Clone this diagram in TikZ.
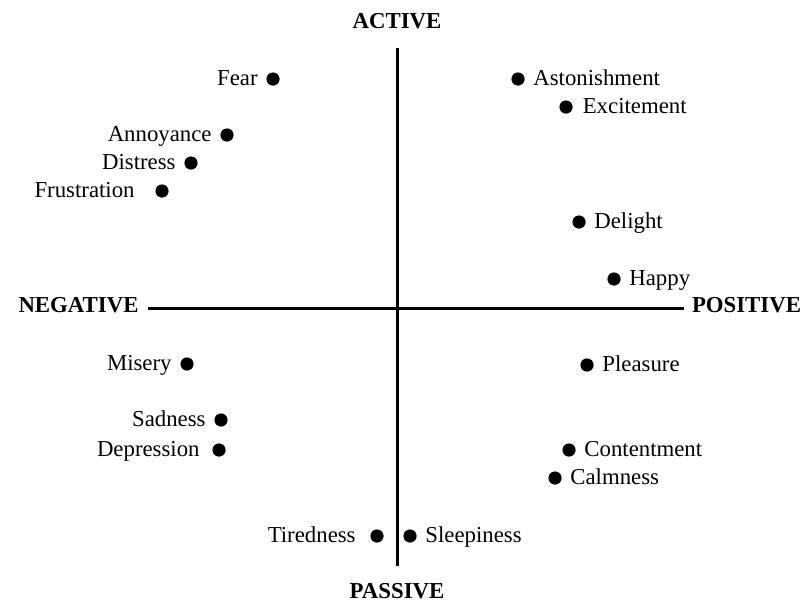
\documentclass[tikz,border=0pt]{standalone}
\usepackage{fontspec}
\setmainfont{Liberation Serif}
\usetikzlibrary{positioning}

\begin{document}
\begin{tikzpicture}[x=0.5pt,y=-0.5pt,
  every node/.style={font=\fontsize{11.4}{13}\selectfont},
  emo/.style={circle,fill=black,inner sep=0pt,minimum size=6.6pt},
  lbl/.style={inner sep=0pt,text height=0.66em,text depth=0pt},
  pole/.style={font=\fontsize{11.4}{13}\selectfont\bfseries,inner sep=0pt,text height=0.66em,text depth=0pt},
  axis/.style={line width=1.5pt}
]
\useasboundingbox (0,0) rectangle (804,606);

% poles
\node[pole] (active) at (397,22) {ACTIVE};
\node[pole] (passive) at (397,592) {PASSIVE};
\node[pole] (negative) at (78.5,306) {NEGATIVE};
\node[pole] (positive) at (746.5,306) {POSITIVE};

% axes
\coordinate (aTop) at (397,48);
\coordinate (aBot) at (397,566);
\coordinate (aLeft) at (148,308);
\coordinate (aRight) at (684,308);
\draw[axis] (aTop) -- (aBot);
\draw[axis] (aLeft) -- (aRight);

% negative side
\node[emo] (nFear) at (273,79) {};
\node[lbl,left=4pt of nFear] (tFear) {Fear};
\node[emo] (nAnnoy) at (227,135) {};
\node[lbl,left=4pt of nAnnoy] (tAnnoy) {Annoyance};
\node[emo] (nDistress) at (191,163) {};
\node[lbl,left=4pt of nDistress] (tDistress) {Distress};
\node[emo] (nFrust) at (162,191) {};
\node[lbl,left=10pt of nFrust] (tFrust) {Frustration};
\node[emo] (nMisery) at (187,364) {};
\node[lbl,left=4pt of nMisery] (tMisery) {Misery};
\node[emo] (nSad) at (221,420) {};
\node[lbl,left=4pt of nSad] (tSad) {Sadness};
\node[emo] (nDepr) at (219,450) {};
\node[lbl,left=6pt of nDepr] (tDepr) {Depression};
\node[emo] (nTired) at (377,536) {};
\node[lbl,left=7pt of nTired] (tTired) {Tiredness};

% positive side
\node[emo] (nAston) at (518,79) {};
\node[lbl,right=4pt of nAston] (tAston) {Astonishment};
\node[emo] (nExcite) at (566,107) {};
\node[lbl,right=4.7pt of nExcite] (tExcite) {Excitement};
\node[emo] (nDelight) at (579,222) {};
\node[lbl,right=4pt of nDelight] (tDelight) {Delight};
\node[emo] (nHappy) at (614,279) {};
\node[lbl,right=4pt of nHappy] (tHappy) {Happy};
\node[emo] (nPleas) at (587,365) {};
\node[lbl,right=4pt of nPleas] (tPleas) {Pleasure};
\node[emo] (nContent) at (569,450) {};
\node[lbl,right=4pt of nContent] (tContent) {Contentment};
\node[emo] (nCalm) at (555,478) {};
\node[lbl,right=4pt of nCalm] (tCalm) {Calmness};
\node[emo] (nSleep) at (410,536) {};
\node[lbl,right=4pt of nSleep] (tSleep) {Sleepiness};

\end{tikzpicture}
\end{document}
